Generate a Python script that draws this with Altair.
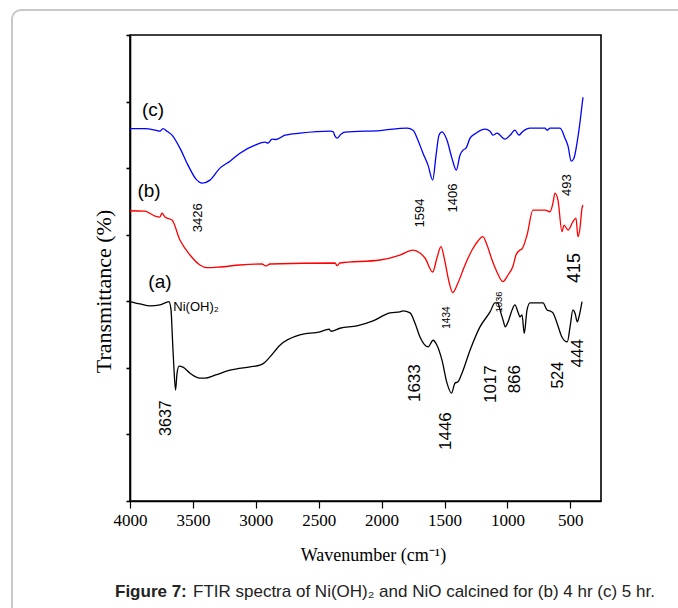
import altair as alt
import pandas as pd

# ---- spectra (wavenumber cm-1, transmittance in arbitrary offset units) ----
wn_a = [4000, 3921, 3841, 3762, 3690, 3674, 3662, 3650, 3638, 3626, 3610, 3579, 3523, 3444, 3404, 3324,
        3205, 3046, 2967, 2927, 2887, 2808, 2649, 2490, 2418, 2402, 2331, 2196, 2068, 1933, 1854, 1830,
        1774, 1735, 1695, 1629, 1591, 1560, 1520, 1480, 1445, 1417, 1393, 1361, 1297, 1218, 1138, 1099,
        1075, 1059, 1035, 1017, 995, 963, 940, 916, 900, 884, 866, 844, 820, 717, 685, 661, 638, 606,
        566, 524, 502, 479, 463, 444, 431, 407]
t_a = [59.9, 59.2, 58.6, 58.9, 59.9, 57.4, 48.3, 39.3, 33.3, 38.4, 40.5, 40.2, 38.4, 36.9, 36.9, 37.8,
       39.3, 40.3, 40.8, 41.7, 43.3, 46.8, 49.9, 50.8, 51.6, 51.0, 51.9, 52.6, 54.1, 56.5, 56.8, 57.1,
       56.5, 53.5, 49.3, 46.3, 48.3, 46.8, 42.3, 35.4, 32.4, 35.4, 35.8, 38.4, 45.3, 52.3, 56.8, 59.5,
       59.5, 57.4, 54.4, 52.3, 53.8, 57.4, 58.9, 56.8, 55.3, 55.9, 50.4, 57.4, 59.5, 59.5, 57.4, 57.1,
       56.5, 53.5, 49.2, 47.8, 52.3, 57.4, 56.5, 53.8, 55.3, 59.9]

wn_b = [4000, 3881, 3801, 3762, 3746, 3722, 3666, 3603, 3523, 3444, 3388, 3285, 3126, 2951, 2919, 2887,
        2370, 2354, 2331, 2013, 1854, 1750, 1695, 1655, 1594, 1560, 1528, 1496, 1464, 1435, 1393, 1337,
        1281, 1234, 1196, 1162, 1122, 1083, 1037, 995, 955, 932, 900, 884, 844, 797, 701, 661, 638, 622,
        598, 566, 550, 518, 479, 455, 439, 423, 407, 399]
t_b = [87.2, 87.1, 85.6, 85.3, 86.5, 85.3, 84.4, 78.4, 73.9, 70.9, 70.1, 70.3, 70.9, 71.2, 70.6, 71.2,
       71.5, 70.7, 71.5, 72.4, 73.9, 75.4, 74.5, 73.0, 68.8, 73.0, 76.4, 71.8, 65.8, 62.6, 65.5, 70.9,
       75.4, 78.1, 79.4, 76.9, 72.4, 68.8, 65.9, 67.9, 70.6, 73.9, 75.4, 75.7, 79.9, 87.4, 87.4, 86.9,
       89.5, 92.5, 90.4, 80.9, 82.9, 81.4, 83.9, 85.0, 79.4, 82.0, 88.0, 88.9]

wn_c = [4000, 3881, 3777, 3762, 3738, 3706, 3666, 3603, 3539, 3475, 3426, 3364, 3285, 3205, 3126, 3006,
        2927, 2903, 2871, 2839, 2768, 2649, 2410, 2386, 2370, 2354, 2323, 2291, 2013, 1798, 1750, 1711,
        1671, 1631, 1594, 1567, 1544, 1520, 1480, 1441, 1406, 1377, 1353, 1329, 1297, 1250, 1178, 1138,
        1115, 1083, 1019, 979, 940, 908, 884, 820, 701, 685, 661, 582, 542, 518, 493, 471, 447, 423,
        407, 399]
t_c = [111.9, 111.9, 111.2, 111.1, 111.9, 111.1, 109.9, 106.0, 100.9, 96.7, 95.5, 96.4, 100.0, 102.1,
       104.5, 106.9, 107.8, 107.5, 108.7, 108.6, 109.9, 110.5, 111.1, 111.0, 109.6, 109.0, 110.2, 110.8,
       111.3, 112.0, 111.4, 108.4, 104.5, 100.9, 96.4, 103.9, 109.9, 110.9, 108.4, 103.0, 99.4, 103.9,
       105.4, 106.0, 109.0, 110.5, 111.7, 111.1, 109.9, 110.5, 108.7, 109.9, 111.4, 109.9, 110.8, 112.0,
       112.0, 111.4, 112.0, 112.0, 109.0, 106.6, 102.1, 103.0, 107.5, 113.8, 118.9, 121.3]

series_names = ["a", "b", "c"]
series_colors = ["#000000", "#ff0000", "#0000ff"]

# ---- annotations ----
ann_text = ["(c)", "(b)", "(a)", "Ni(OH)\u2082", "3426", "1594", "1406", "493", "415", "1434", "1036",
            "1633", "1446", "1017", "866", "524", "444", "3637"]
ann_wn = [3817, 3849, 3762, 3475, 3463, 1695, 1432, 526, 463, 1484, 1067, 1735, 1488, 1130, 940, 598, 439, 3714]
ann_t = [117.4, 93.1, 65.8, 58.3, 85.1, 86.5, 91.0, 94.9, 70.0, 55.1, 59.8, 35.4, 21.0, 35.1, 36.6, 37.8, 44.4, 24.9]
ann_size = [19, 19, 19, 13, 13, 13, 13, 13, 18, 10, 9.5, 17, 17, 17, 17, 16, 17, 16]
ann_angle = [0, 0, 0, 0, 270, 270, 270, 270, 270, 270, 270, 270, 270, 270, 270, 270, 270, 270]

x_tick_values = list(range(4000, 499, -250))
y_tick_values = list(range(0, 141, 10))
caption_bold = ["Figure 7:"]
caption_rest = ["FTIR spectra of Ni(OH)\u2082 and NiO calcined for (b) 4 hr (c) 5 hr."]

rows = []
for name, wns, ts in [("a", wn_a, t_a), ("b", wn_b, t_b), ("c", wn_c, t_c)]:
    for i, (w, t) in enumerate(zip(wns, ts)):
        rows.append({"series": name, "wn": w, "t": t, "i": i})
df = pd.DataFrame(rows)
ann_df = pd.DataFrame({"text": ann_text, "wn": ann_wn, "t": ann_t, "size": ann_size, "angle": ann_angle})

xscale = alt.Scale(domain=[4000, 256], nice=False, zero=False)
yscale = alt.Scale(domain=[0, 140], nice=False, zero=False)

xaxis = alt.Axis(
    values=x_tick_values, format="d",
    labelExpr="datum.value % 500 === 0 ? datum.label : ''",
    tickSize={"condition": {"test": "datum.value % 500 === 0", "value": 7}, "value": 4},
    tickColor="black", tickWidth=1.2, domainColor="black", domainWidth=1.6,
    labelFont="Liberation Sans Narrow", labelFontSize=17, labelColor="black",
    labelPadding=4, labelFlush=False, labelOverlap=False, grid=False,
    title="Wavenumber (cm\u207b\u00b9)", titleFont="Liberation Serif", titleFontSize=18,
    titleFontWeight="normal", titleColor="black", titleX=243, titleY=54,
    titleBaseline="middle", titleAlign="center",
)
yaxis = alt.Axis(
    values=y_tick_values, labelExpr="''", labelOverlap=False, tickSize=4, tickColor="black",
    tickWidth=1.6, domainColor="black", domainWidth=1.6, grid=False,
    title="Transmittance (%)", titleFont="Liberation Serif", titleFontSize=22,
    titleFontWeight="normal", titleColor="black", titleAngle=270, titleX=-27, titleY=256,
    titleBaseline="middle", titleAlign="center",
)

border = alt.Chart(pd.DataFrame({"k": [0]})).mark_rect(
    fillOpacity=0, stroke="#c8c8c8", strokeWidth=2, cornerRadius=9
).encode(x=alt.value(-118), x2=alt.value(580), y=alt.value(-25), y2=alt.value(600))

lines = alt.Chart(df).mark_line(strokeWidth=1.3, interpolate="monotone").encode(
    x=alt.X("wn:Q", scale=xscale, axis=xaxis),
    y=alt.Y("t:Q", scale=yscale, axis=yaxis),
    color=alt.Color("series:N", scale=alt.Scale(domain=series_names, range=series_colors), legend=None),
    order="i:Q",
)

ann = alt.Chart(ann_df).mark_text(font="Liberation Sans", baseline="middle", align="center", color="black").encode(
    x=alt.X("wn:Q", scale=xscale),
    y=alt.Y("t:Q", scale=yscale),
    text="text:N",
    size=alt.Size("size:Q", scale=None),
    angle=alt.Angle("angle:Q", scale=None),
)

cap1 = alt.Chart(pd.DataFrame({"t": caption_bold})).mark_text(
    font="Liberation Sans", fontSize=17, fontWeight="bold", align="left", baseline="middle", color="#222222"
).encode(x=alt.value(-15), y=alt.value(557), text="t:N")
cap2 = alt.Chart(pd.DataFrame({"t": caption_rest})).mark_text(
    font="Liberation Sans", fontSize=17, align="left", baseline="middle", color="#222222"
).encode(x=alt.value(63), y=alt.value(557), text="t:N")

chart = alt.layer(border, lines, ann, cap1, cap2).properties(
    width=471, height=466,
    padding={"left": 130, "top": 35, "right": 77, "bottom": 107},
    autosize=alt.AutoSizeParams(type="none"),
    background="white",
).configure_view(stroke="black", strokeWidth=1.6)

chart.save("out.html", embed_options={"renderer": "svg", "actions": False})
